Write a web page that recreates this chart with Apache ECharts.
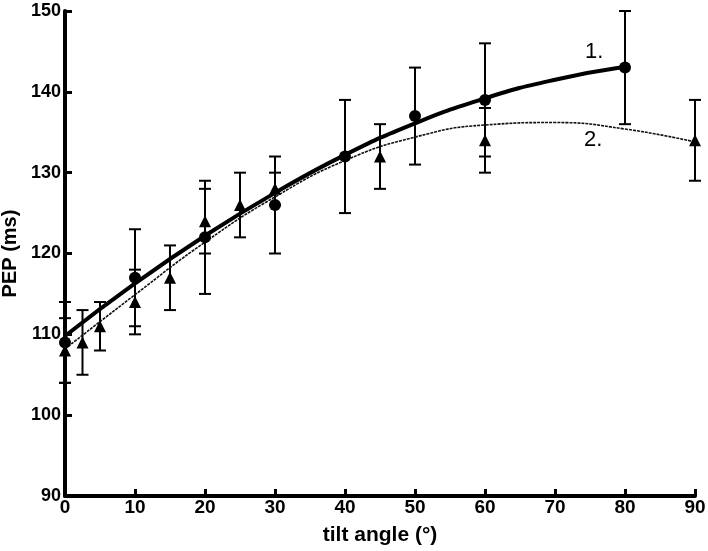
<!DOCTYPE html>
<html><head><meta charset="utf-8">
<script src="https://cdn.jsdelivr.net/npm/echarts@6/dist/echarts.min.js"></script>
<style>html,body{margin:0;padding:0;background:#fff}#c{width:708px;height:551px}</style>
</head><body><div id="c"></div>
<script>
// Series 1 (circles)
const x1 = [0, 10, 20, 30, 40, 50, 60, 80];
const mean1 = [109, 117, 122, 126, 132, 137, 139, 143];
const low1 = [104, 111, 115, 120, 125, 131, 132, 136];
const high1 = [114, 123, 129, 132, 139, 143, 146, 150];
// Series 2 (triangles)
const x2 = [0, 2.5, 5, 10, 15, 20, 25, 30, 45, 60, 90];
const mean2 = [108, 109, 111, 114, 117, 124, 126, 128, 132, 134, 134];
const low2 = [104, 105, 108, 110, 113, 120, 122, 126, 128, 130, 129];
const high2 = [112, 113, 114, 118, 121, 128, 130, 130, 136, 138, 139];
// Fitted curves
const fitX1 = [0, 10, 20, 30, 40, 50, 60, 70, 80];
const fitY1 = [109.8, 116.3, 122.2, 127.5, 132.2, 136.1, 139.2, 141.5, 143.1];
const fitX2 = [0, 10, 20, 30, 40, 50, 60, 70, 80, 90];
const fitY2 = [108.2, 114.9, 121.4, 127.0, 131.5, 134.4, 135.9, 136.2, 135.4, 133.8];
const xTicks = [0, 10, 20, 30, 40, 50, 60, 70, 80, 90];
const yTicks = [90, 100, 110, 120, 130, 140, 150];
const curveLabels = ['1.', '2.'];

const chart = echarts.init(document.getElementById('c'));
const zip = (a, b) => a.map((v, i) => [v, b[i]]);
const errData = (xs, lo, hi) => xs.map((v, i) => [v, lo[i], hi[i]]);
function errItem(params, api) {
  const x = api.value(0);
  const lo = api.coord([x, api.value(1)]);
  const hi = api.coord([x, api.value(2)]);
  const hw = 6;
  const st = {stroke: '#000', lineWidth: 2};
  return {type: 'group', children: [
    {type: 'line', shape: {x1: lo[0], y1: lo[1], x2: hi[0], y2: hi[1]}, style: st},
    {type: 'line', shape: {x1: lo[0]-hw, y1: lo[1], x2: lo[0]+hw, y2: lo[1]}, style: st},
    {type: 'line', shape: {x1: hi[0]-hw, y1: hi[1], x2: hi[0]+hw, y2: hi[1]}, style: st}
  ]};
}
const font = '"Liberation Sans", Arial, sans-serif';
chart.setOption({
  animation: false,
  backgroundColor: '#fff',
  grid: {left: 65, right: 13, top: 11, bottom: 55, outerBoundsMode: 'none', containLabel: false},
  xAxis: {
    type: 'value', min: xTicks[0], max: xTicks[xTicks.length-1], interval: 10,
    name: 'tilt angle (°)', nameLocation: 'middle', nameGap: 29,
    nameTextStyle: {fontFamily: font, fontWeight: 'bold', fontSize: 21, color: '#000', verticalAlign: 'top'},
    axisLine: {lineStyle: {color: '#000', width: 4}},
    axisTick: {show: true, inside: true, length: 7, lineStyle: {color: '#000', width: 3}},
    axisLabel: {fontFamily: font, fontWeight: 'bold', fontSize: 19, color: '#000', margin: 2},
    splitLine: {show: false}
  },
  yAxis: {
    type: 'value', min: yTicks[0], max: yTicks[yTicks.length-1], interval: 10,
    name: 'PEP (ms)', nameLocation: 'middle', nameGap: 40, nameRotate: 90,
    nameTextStyle: {fontFamily: font, fontWeight: 'bold', fontSize: 20, color: '#000'},
    axisLine: {lineStyle: {color: '#000', width: 4}},
    axisTick: {show: true, inside: true, length: 7, lineStyle: {color: '#000', width: 3}},
    axisLabel: {fontFamily: font, fontWeight: 'bold', fontSize: 18, color: '#000', margin: 4},
    splitLine: {show: false}
  },
  series: [
    {type: 'custom', renderItem: errItem, data: errData(x1, low1, high1), z: 2, clip: false},
    {type: 'custom', renderItem: errItem, data: errData(x2, low2, high2), z: 2, clip: false},
    {type: 'line', data: zip(fitX1, fitY1), smooth: 0.5, showSymbol: false, lineStyle: {color: '#000', width: 4}, z: 3},
    {type: 'line', data: zip(fitX2, fitY2), smooth: 0.5, showSymbol: false, lineStyle: {color: '#111', width: 1.6, type: [3, 1]}, z: 3},
    {type: 'scatter', data: zip(x1, mean1), symbol: 'circle', symbolSize: 12, itemStyle: {color: '#000', opacity: 1}, z: 5, clip: false},
    {type: 'scatter', data: zip(x2, mean2), symbol: 'triangle', symbolSize: 12, itemStyle: {color: '#000', opacity: 1}, z: 5, clip: false}
  ],
  graphic: [
    {type: 'text', left: 585, top: 41, style: {text: curveLabels[0], font: '22px ' + font, fill: '#000'}},
    {type: 'text', left: 584, top: 129, style: {text: curveLabels[1], font: '22px ' + font, fill: '#000'}}
  ]
});
</script></body></html>
